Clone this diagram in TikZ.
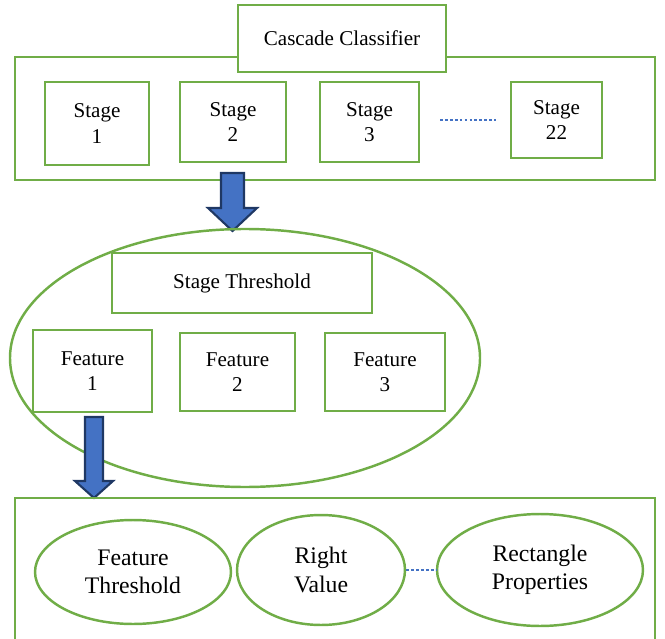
\documentclass[tikz,border=0pt]{standalone}
\usepackage{fontspec}
\setmainfont{Liberation Serif}
\usetikzlibrary{shapes.geometric}

\definecolor{boxgreen}{RGB}{112,173,71}
\definecolor{arrblue}{RGB}{68,114,196}
\definecolor{arrnavy}{RGB}{31,56,100}

\begin{document}
\begin{tikzpicture}[x=0.02cm,y=-0.02cm,
  gbox/.style={draw=boxgreen,line width=1.4pt,fill=white,inner sep=0pt,
    align=center,font=\fontsize{12}{14.5}\selectfont},
  gell/.style={ellipse,draw=boxgreen,line width=1.4pt,fill=white,inner sep=0pt,
    align=center,font=\fontsize{13.5}{16}\selectfont},
  dots/.style={draw=arrblue,line width=1.5pt,dash pattern=on 1.6pt off 1.2pt},
  barrow/.style={draw=arrnavy,fill=arrblue,line width=1.2pt,line join=miter}]

\useasboundingbox (0,0) rectangle (665,638);

% Cascade classifier with its stages
\draw[boxgreen,line width=1.4pt] (15,57) rectangle (655,180);
\node[gbox,minimum width=4.16cm,minimum height=1.34cm] (casc) at (342,38.5) {Cascade Classifier};

\node[gbox,minimum width=2.08cm,minimum height=1.66cm] (s1)  at (97,123.5) {Stage\\1};
\node[gbox,minimum width=2.12cm,minimum height=1.6cm]  (s2)  at (233,122)  {Stage\\2};
\node[gbox,minimum width=1.98cm,minimum height=1.6cm]  (s3)  at (369.5,122) {Stage\\3};
\node[gbox,minimum width=1.82cm,minimum height=1.52cm] (s22) at (556.5,120) {Stage\\22};

\coordinate (d1) at (440,120);
\coordinate (d2) at (496,120);
\draw[dots] (d1) -- (d2);

% Arrow down to the stage
\draw[barrow] (221,173) -- (244,173) -- (244,208) -- (257,208) -- (232.5,231)
  -- (208,208) -- (221,208) -- cycle;

% One stage
\draw[boxgreen,line width=1.4pt] (245,358) ellipse (235 and 129);
\node[gbox,minimum width=5.2cm,minimum height=1.2cm] (thr) at (242,283) {Stage Threshold};

\node[gbox,minimum width=2.38cm,minimum height=1.64cm] (f1) at (92.5,371) {Feature\\1};
\node[gbox,minimum width=2.3cm,minimum height=1.56cm]  (f2) at (237.5,372) {Feature\\2};
\node[gbox,minimum width=2.4cm,minimum height=1.56cm]  (f3) at (385,372) {Feature\\3};

% Arrow down to the feature
\draw[barrow] (85,417) -- (103,417) -- (103,481) -- (113,481) -- (94,498)
  -- (75,481) -- (85,481) -- cycle;

% One feature
\draw[boxgreen,line width=1.4pt] (15,642) -- (15,498) -- (655,498) -- (655,642);

\node[gell,minimum width=3.92cm,minimum height=2.08cm] (e1) at (133,572) {Feature\\Threshold};
\node[gell,minimum width=3.36cm,minimum height=2.2cm]  (e2) at (321,570) {Right\\Value};
\node[gell,minimum width=4.12cm,minimum height=2.24cm] (e3) at (540,570) {Rectangle\\Properties};

\draw[dots] (e2.east) -- (e3.west);

\end{tikzpicture}
\end{document}
